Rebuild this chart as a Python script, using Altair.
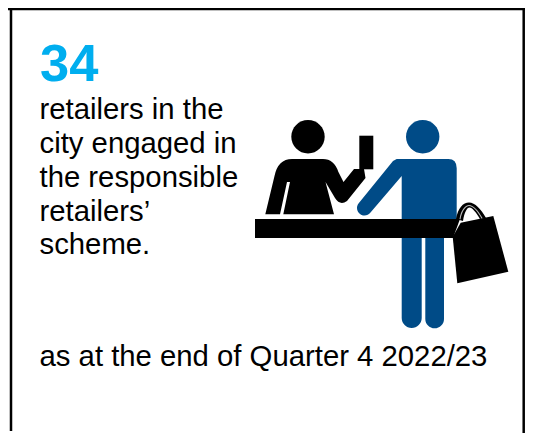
import altair as alt
import pandas as pd

big_number = ["34"]
body_lines = "retailers in the\ncity engaged in\nthe responsible\nretailers’\nscheme."
footer = ["as at the end of Quarter 4 2022/23"]

FONT = "Liberation Sans"
NAVY = "#004B87"
CYAN = "#00AEEF"

# icon outlines, drawn in page pixels; the marks are anchored so they land on the page
black_paths = [
    # seated person: head, card, torso
    "M291.3 136.7 A16.7 16.7 0 1 1 324.7 136.7 A16.7 16.7 0 1 1 291.3 136.7 Z",
    "M359.3 135.7 L373.3 135.7 L373.3 169.3 L359.3 169.3 Z",
    "M265.3 214.3 L274.5 176 Q278 159 292 159 L323 159 Q334 159 338.3 171.7 L343.5 182 L354 169 L364 169 "
    "L365.5 178 L347 201 Q340 206 335 198 L325.5 182 L334 214.3 L283.3 214.3 L290 182 L287 182 L280 214.3 Z",
    # counter
    "M255 219 L460 219 L453 238 L255 238 Z",
    # bag and handles
    "M460.7 222.7 L493.3 216 L508.3 271.7 L457.3 283.3 L452.7 236.7 Z",
    "M456 219 C458 208 463 202.5 469 202.5 C475 202.5 481 209 486 218 L480 219 "
    "C476 212 472 207.5 469.5 207.5 C467 207.5 464.5 212 463 221 Z",
]
highlight_paths = [
    "M459.5 219 C461 209 466 205 469 205 C473 205 478 210 482.5 218 L481.5 218.5 "
    "C477.5 211 473 206 469 206 C466.5 206 462 210 460.5 219.5 Z",
]
navy_paths = [
    "M406 136.7 A16.7 16.7 0 1 1 439.4 136.7 A16.7 16.7 0 1 1 406 136.7 Z",
    "M396.7 159 L448.3 159 Q456.7 159 456.7 168.3 L456.7 222 L444 238 L444 319 A9.3 9.3 0 0 1 425.3 319 "
    "L425.3 238 L421.7 238 L421.7 318 A10 10 0 0 1 401.7 318 L401.7 176 L370.5 212.5 A7.5 7.5 0 0 1 358.5 203.5 "
    "L393 161 Z",
]

base = alt.Chart(pd.DataFrame({"a": [0]}))


def page(px):
    return alt.value(px - 8)


def icon(path, color):
    return base.mark_point(
        shape=path, filled=True, size=4, opacity=1, color=color, strokeWidth=0
    ).encode(x=page(0), y=page(0))


def rule(x1, y1, x2, y2, width):
    return base.mark_rule(color="black", strokeWidth=width).encode(
        x=page(x1), x2=page(x2), y=page(y1), y2=page(y2)
    )


def text(value, x, y, size, color="black", weight="normal", **kw):
    return alt.Chart(pd.DataFrame({"t": value})).mark_text(
        align="left", baseline="alphabetic", font=FONT, fontSize=size,
        fontWeight=weight, color=color, **kw
    ).encode(text="t:N", x=page(x), y=page(y))


layers = [
    rule(8, 9, 525, 9, 2.5),
    rule(11, 8, 11, 431, 2.5),
    rule(523.7, 8, 523.7, 433, 2.5),
    text(big_number, 40, 81, 52.5, CYAN, "bold"),
    text([body_lines], 39.5, 119.3, 29.3, lineBreak="\n", lineHeight=33.8),
    text(footer, 39.5, 366, 29.3),
]
layers += [icon(p, NAVY) for p in navy_paths]
layers += [icon(p, "black") for p in black_paths]
layers += [icon(p, "#bbbbbb") for p in highlight_paths]

chart = alt.layer(*layers).properties(
    width=517, height=425, padding=0, autosize=alt.AutoSizeParams(type="none")
).configure_view(stroke=None)

chart.save("out.html", embed_options={"renderer": "svg", "actions": False})
